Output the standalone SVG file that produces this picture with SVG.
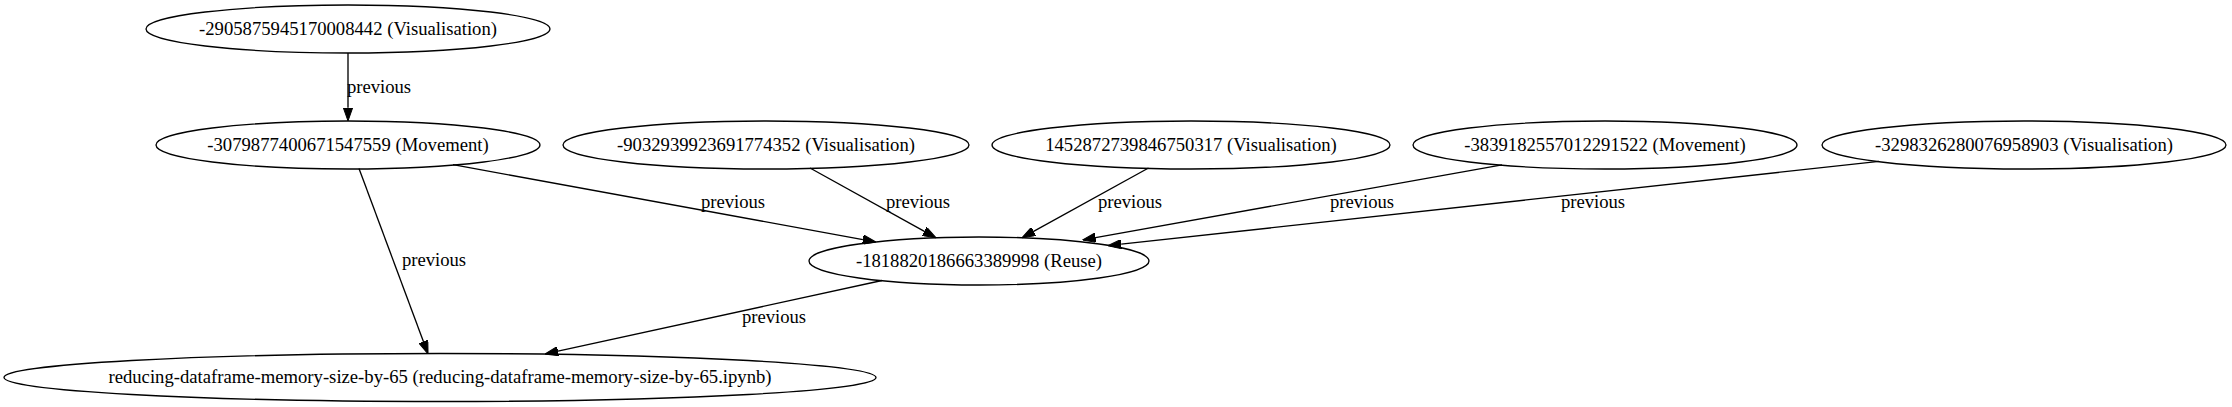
<svg xmlns="http://www.w3.org/2000/svg" width="2232" height="407" viewBox="0 0 2232 407">
<style>
.n ellipse{fill:none;stroke:#000;stroke-width:1.33}
text{font-family:"Liberation Serif","Times New Roman",serif;font-size:18.67px;fill:#000;text-anchor:middle}
.e line{stroke:#000;stroke-width:1.33}
</style>
<defs>
<marker id="ah" viewBox="0 0 13.3 9.4" refX="0" refY="4.7" markerWidth="13.3" markerHeight="9.4" markerUnits="userSpaceOnUse" orient="auto">
<path d="M0,0 L13.3,4.7 L0,9.4 z" fill="#000" stroke="#000" stroke-width="1"/>
</marker>
</defs>
<rect width="2232" height="407" fill="#fff"/>
<g id="connectors" class="e">
<line x1="348" y1="53" x2="348" y2="107.7" marker-end="url(#ah)"/>
<text x="379" y="93">previous</text>
<line x1="359" y1="168.5" x2="423.4" y2="341.5" marker-end="url(#ah)"/>
<text x="434" y="266">previous</text>
<line x1="882" y1="280.5" x2="558" y2="351.2" marker-end="url(#ah)"/>
<text x="774" y="323">previous</text>
<line x1="453" y1="164.7" x2="862.9" y2="239.6" marker-end="url(#ah)"/>
<text x="733" y="208">previous</text>
<line x1="810" y1="168" x2="924.4" y2="231.3" marker-end="url(#ah)"/>
<text x="918" y="208">previous</text>
<line x1="1148.5" y1="168" x2="1033.6" y2="231.4" marker-end="url(#ah)"/>
<text x="1130" y="208">previous</text>
<line x1="1502" y1="164.8" x2="1095.6" y2="237.65" marker-end="url(#ah)"/>
<text x="1362" y="208">previous</text>
<line x1="1879" y1="161.4" x2="1121.2" y2="244.2" marker-end="url(#ah)"/>
<text x="1593" y="208">previous</text>
</g>
<g id="n1" class="n"><ellipse cx="348" cy="29" rx="202" ry="24"/><text x="348" y="34.5">-2905875945170008442 (Visualisation)</text></g>
<g id="n2" class="n"><ellipse cx="348" cy="145" rx="192" ry="24"/><text x="348" y="150.5">-3079877400671547559 (Movement)</text></g>
<g id="n3" class="n"><ellipse cx="766" cy="145" rx="203" ry="24"/><text x="766" y="150.5">-9032939923691774352 (Visualisation)</text></g>
<g id="n4" class="n"><ellipse cx="1191" cy="145" rx="199" ry="24"/><text x="1191" y="150.5">1452872739846750317 (Visualisation)</text></g>
<g id="n5" class="n"><ellipse cx="1605" cy="145" rx="192" ry="24"/><text x="1605" y="150.5">-3839182557012291522 (Movement)</text></g>
<g id="n6" class="n"><ellipse cx="2024" cy="145" rx="202" ry="24"/><text x="2024" y="150.5">-3298326280076958903 (Visualisation)</text></g>
<g id="n7" class="n"><ellipse cx="979" cy="261" rx="170" ry="24"/><text x="979" y="266.5">-1818820186663389998 (Reuse)</text></g>
<g id="n8" class="n"><ellipse cx="440" cy="377.5" rx="436" ry="24"/><text x="440" y="383">reducing-dataframe-memory-size-by-65 (reducing-dataframe-memory-size-by-65.ipynb)</text></g>
</svg>
